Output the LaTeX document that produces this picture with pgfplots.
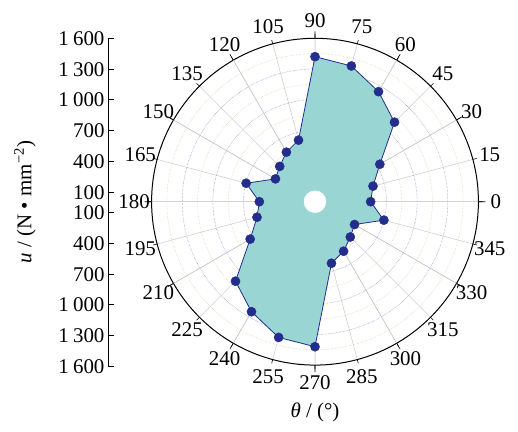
\documentclass[border=0pt]{standalone}
\usepackage{pgfplots}
\pgfplotsset{compat=1.18}
\usepgfplotslibrary{polar}
\usepackage{fontspec}
\setmainfont{Liberation Serif}

\definecolor{fillc}{RGB}{152,213,211}
\definecolor{markc}{RGB}{35,45,140}
\definecolor{majgrid}{RGB}{115,125,185}
\definecolor{mingrid}{RGB}{210,205,150}
\definecolor{radgrid}{RGB}{200,200,200}

\newcommand{\bigf}{\fontsize{21}{24}\selectfont}

\begin{document}
\begin{tikzpicture}
\useasboundingbox (0bp,0bp) rectangle (518bp,432bp);

\begin{polaraxis}[
  at={(315bp,230.3bp)}, anchor=origin,
  width=326.8bp, height=326.8bp, scale only axis,
  ymin=0, ymax=1600,
  xtick={0,15,...,345},
  /pgf/number format/assume math mode=true,
  xticklabel style={font=\bigf, anchor=center, inner sep=0pt,
    xshift={17.5bp*cos(\tick)}, yshift={17.5bp*sin(\tick)}},
  major tick length=4bp,
  tick align=inside,
  xtick style={black, line width=0.6bp},
  ytick={100,400,...,1300},
  minor ytick={250,550,...,1450},
  yticklabels={},
  ytick style={draw=none},
  minor tick length=0pt,
  ymajorgrids, yminorgrids,
  major y grid style={majgrid, densely dotted, line width=0.5bp},
  minor y grid style={mingrid, densely dotted, line width=0.5bp},
  extra x ticks={0,30,...,330},
  extra x tick labels={},
  extra x tick style={grid=major, major grid style={radgrid, line width=0.5bp}, major tick length=7bp},
  x axis line style={black, line width=1bp},
  y axis line style={draw=none},
]
\addplot[draw=markc, fill=fillc, line width=0.8bp] coordinates {
  (0,545) (15,588) (30,733) (45,1101) (60,1244) (75,1376) (90,1420)
  (105,624) (120,560) (135,489) (150,447) (165,698)
  (180,545) (195,588) (210,733) (225,1101) (240,1244) (255,1376) (270,1420)
  (285,624) (300,560) (315,489) (330,447) (345,698) (360,545)
};
\addplot[only marks, mark=*, mark size=11bp, white, mark options={draw=none, fill=white}] coordinates {(0,0)};
\addplot[only marks, mark=*, mark size=4.6bp, mark options={draw=markc, fill=markc}] coordinates {
  (0,545) (15,588) (30,733) (45,1101) (60,1244) (75,1376) (90,1420)
  (105,624) (120,560) (135,489) (150,447) (165,698)
  (180,545) (195,588) (210,733) (225,1101) (240,1244) (255,1376) (270,1420)
  (285,624) (300,560) (315,489) (330,447) (345,698)
};
\end{polaraxis}

\begin{axis}[
  at={(113bp,229.5bp)}, anchor=center,
  width=10bp, height=328bp, scale only axis,
  xmin=0, xmax=1, ymin=-1600, ymax=1600,
  hide x axis,
  axis y line*=left,
  y axis line style={black, line width=1bp},
  ytick={-1600,-1300,-1000,-700,-400,-100,100,400,700,1000,1300,1600},
  yticklabels={1\hspace{0.2em}600,1\hspace{0.2em}300,1\hspace{0.2em}000,700,400,100,100,400,700,1\hspace{0.2em}000,1\hspace{0.2em}300,1\hspace{0.2em}600},
  yticklabel style={font=\bigf},
  tick align=inside,
  major tick length=6bp,
  ytick style={black, line width=1bp},
]
\end{axis}

\node[rotate=90, font=\bigf] at (25bp,230bp) {\textit{u} / (N • mm\textsuperscript{−2})};
\node[font=\bigf] at (315bp,20bp) {\textit{θ} / (°)};
\end{tikzpicture}
\end{document}
